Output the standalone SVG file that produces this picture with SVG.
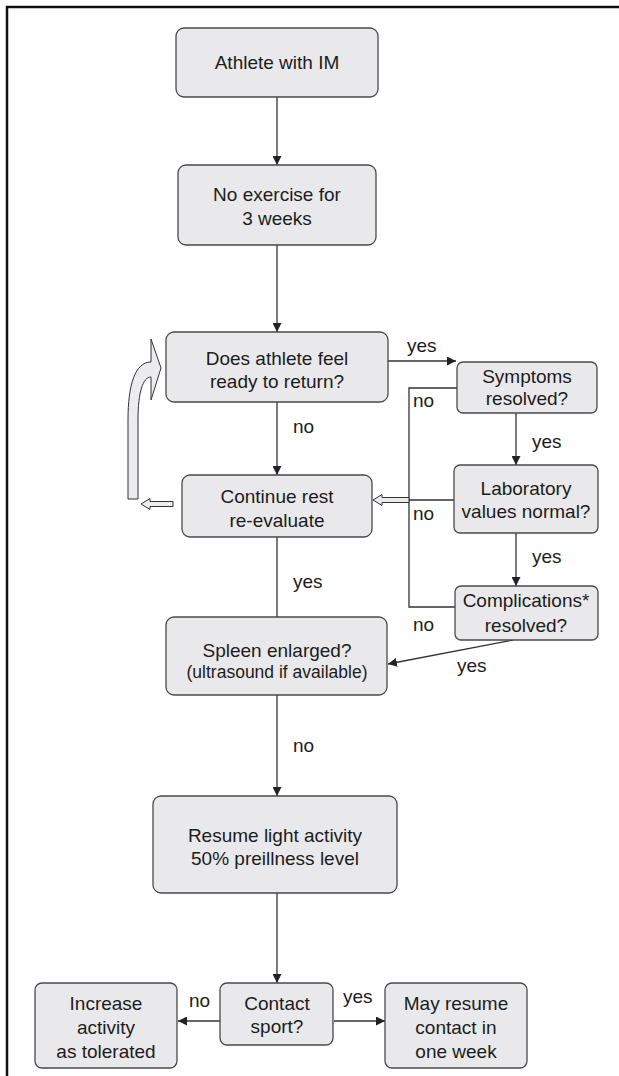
<svg xmlns="http://www.w3.org/2000/svg" width="619" height="1076" viewBox="0 0 619 1076">
<defs>
<style>
.box{fill:#e9e9eb;stroke:#4a4a4a;stroke-width:1.3}
.t{font-family:"Liberation Sans",Arial,sans-serif;font-size:19px;fill:#1c1c1c;text-anchor:middle}
.l{font-family:"Liberation Sans",Arial,sans-serif;font-size:19px;fill:#1c1c1c}
.ln{fill:none;stroke:#333;stroke-width:1.3}
.hol{fill:#ececee;stroke:#333;stroke-width:1}
</style>
<marker id="ah" viewBox="0 0 10 10" refX="10" refY="5" markerWidth="9" markerHeight="9" markerUnits="userSpaceOnUse" orient="auto">
<path d="M0,0 L10,5 L0,10 Z" fill="#222"/>
</marker>
</defs>
<rect width="619" height="1076" fill="#fff"/>
<path d="M7,1076 V7 H619" fill="none" stroke="#111" stroke-width="2.5"/>

<g id="connectors">
<line class="ln" x1="277" y1="97" x2="277" y2="165" marker-end="url(#ah)"/>
<line class="ln" x1="277" y1="245" x2="277" y2="332" marker-end="url(#ah)"/>
<line class="ln" x1="388" y1="361" x2="456" y2="361" marker-end="url(#ah)"/>
<line class="ln" x1="277" y1="402" x2="277" y2="475" marker-end="url(#ah)"/>
<line class="ln" x1="516" y1="413" x2="516" y2="465" marker-end="url(#ah)"/>
<line class="ln" x1="516" y1="533" x2="516" y2="586" marker-end="url(#ah)"/>
<path class="ln" d="M457,388 H409 V607 H455 M409,500 H454"/>
<path class="hol" d="M409,497.5 H382 V494.5 L373,500 L382,505.5 V502.5 H409 Z"/>
<path class="hol" d="M173,501.5 H150 V498.5 L141,504 L150,509.5 V506.5 H173 Z"/>
<path class="hol" d="M128,499 L128,420 C128,385 135,362 151,362 L151,339 L161,368 L151,400 L151,377 C143,377 138,392 138,420 L138,499 Z"/>
<line class="ln" x1="277" y1="617" x2="277" y2="537"/>
<line class="ln" x1="513" y1="640" x2="388" y2="664" marker-end="url(#ah)"/>
<line class="ln" x1="277" y1="695" x2="277" y2="796" marker-end="url(#ah)"/>
<line class="ln" x1="277" y1="893" x2="277" y2="983" marker-end="url(#ah)"/>
<line class="ln" x1="220" y1="1021" x2="178" y2="1021" marker-end="url(#ah)"/>
<line class="ln" x1="334" y1="1021" x2="385" y2="1021" marker-end="url(#ah)"/>
<text class="l" x="407" y="352">yes</text>
<text class="l" x="293" y="433">no</text>
<text class="l" x="532" y="448">yes</text>
<text class="l" x="532" y="563">yes</text>
<text class="l" x="413" y="407">no</text>
<text class="l" x="413" y="520">no</text>
<text class="l" x="413" y="631">no</text>
<text class="l" x="293" y="588">yes</text>
<text class="l" x="457" y="672">yes</text>
<text class="l" x="293" y="752">no</text>
<text class="l" x="189" y="1007">no</text>
<text class="l" x="343" y="1003">yes</text>
</g>

<g id="athlete"><rect class="box" x="176" y="28" width="202" height="69" rx="8"/><text class="t" x="277" y="69">Athlete with IM</text></g>
<g id="noexercise"><rect class="box" x="178" y="165" width="198" height="80" rx="8"/><text class="t" x="277" y="201">No exercise for</text><text class="t" x="277" y="225">3 weeks</text></g>
<g id="ready"><rect class="box" x="166" y="332" width="222" height="70" rx="8"/><text class="t" x="277" y="365">Does athlete feel</text><text class="t" x="277" y="388">ready to return?</text></g>
<g id="symptoms"><rect class="box" x="457" y="362" width="140" height="51" rx="6"/><text class="t" x="527" y="383">Symptoms</text><text class="t" x="527" y="405">resolved?</text></g>
<g id="lab"><rect class="box" x="454" y="465" width="144" height="68" rx="6"/><text class="t" x="526" y="495">Laboratory</text><text class="t" x="526" y="518">values normal?</text></g>
<g id="complications"><rect class="box" x="455" y="586" width="143" height="54" rx="6"/><text class="t" x="526" y="607">Complications*</text><text class="t" x="526" y="632">resolved?</text></g>
<g id="continue"><rect class="box" x="182" y="475" width="190" height="62" rx="8"/><text class="t" x="277" y="503">Continue rest</text><text class="t" x="277" y="527">re-evaluate</text></g>
<g id="spleen"><rect class="box" x="166" y="617" width="221" height="78" rx="8"/><text class="t" x="277" y="657">Spleen enlarged?</text><text class="t" x="277" y="678" style="font-size:17.5px">(ultrasound if available)</text></g>
<g id="resume"><rect class="box" x="153" y="796" width="244" height="97" rx="8"/><text class="t" x="275" y="842">Resume light activity</text><text class="t" x="275" y="865">50% preillness level</text></g>
<g id="contact"><rect class="box" x="220" y="983" width="113" height="62" rx="7"/><text class="t" x="277" y="1010">Contact</text><text class="t" x="277" y="1033">sport?</text></g>
<g id="increase"><rect class="box" x="35" y="983" width="142" height="85" rx="7"/><text class="t" x="106" y="1010">Increase</text><text class="t" x="106" y="1034">activity</text><text class="t" x="106" y="1058">as tolerated</text></g>
<g id="mayresume"><rect class="box" x="385" y="983" width="142" height="85" rx="7"/><text class="t" x="456" y="1010">May resume</text><text class="t" x="456" y="1034">contact in</text><text class="t" x="456" y="1058">one week</text></g>
</svg>
